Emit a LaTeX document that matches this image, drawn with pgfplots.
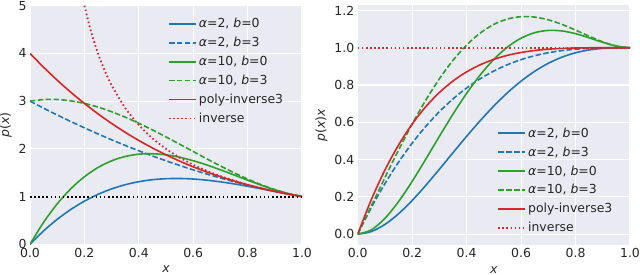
\documentclass[border=0pt]{standalone}
\usepackage{pgfplots}
\pgfplotsset{compat=1.18}
\usepackage{fontspec}
\setmainfont{DejaVu Sans}
\definecolor{bgc}{HTML}{EAEAF2}
\definecolor{txt}{HTML}{262626}
\definecolor{cb}{HTML}{1F77B4}
\definecolor{cg}{HTML}{2CA02C}
\definecolor{cr}{HTML}{D62728}
\pgfplotsset{
 sb/.style={
  scale only axis, width=272bp, height=238.6bp, xmin=0, xmax=1,
  axis background/.style={fill=bgc},
  axis line style={draw=none},
  major tick length=0pt,
  grid=major, major grid style={white, line width=1.1bp},
  tick label style={font=\fontsize{12.5}{15}\selectfont, text=txt},
  label style={font=\fontsize{12.5}{15}\selectfont, text=txt},
  /pgf/number format/assume math mode=true,
  xtick={0,0.2,0.4,0.6,0.8,1},
  xticklabel style={/pgf/number format/.cd, fixed, fixed zerofill, precision=1},
  legend style={draw=none, fill=none, font=\fontsize{12.5}{15}\selectfont, text=txt, inner sep=0pt, row sep=4bp, anchor=north west, cells={anchor=west}},
  legend image code/.code={\draw[##1] (0bp,0bp) -- (27bp,0bp);},
  every axis plot/.append style={line width=1.6bp},
  xlabel={\textit{x}},
  xlabel style={yshift=-1.5bp},
 },
 dsh/.style={dash pattern=on 5.5bp off 2.4bp},
 dtt/.style={dash pattern=on 1.6bp off 2.5bp, line width=1.8bp},
}
\begin{document}
\begin{tikzpicture}
\useasboundingbox (0,0) rectangle (640bp,275bp);
% ---------------- left panel: p(x)
\begin{axis}[sb, at={(30bp,30.7bp)}, anchor=south west,
  ymin=0, ymax=5, ytick={0,1,2,3,4,5},
  ylabel={\textit{p}(\textit{x})},
  legend style={at={(0.507,0.956)}}]
\addplot[cb, smooth] coordinates {(0,0)(0.05,0.2804)(0.1,0.523)(0.15,0.7301)(0.2,0.904)(0.25,1.0469)(0.3,1.161)(0.35,1.2486)(0.4,1.312)(0.45,1.3534)(0.5,1.375)(0.55,1.3791)(0.6,1.368)(0.65,1.3439)(0.7,1.309)(0.75,1.2656)(0.8,1.216)(0.85,1.1624)(0.9,1.107)(0.95,1.0521)(1,1)};
\addlegendentry{\textit{α}=2, \textit{b}=0}
\addplot[cb, dsh, smooth] coordinates {(0,3)(0.05,2.8525)(0.1,2.71)(0.15,2.5725)(0.2,2.44)(0.25,2.3125)(0.3,2.19)(0.35,2.0725)(0.4,1.96)(0.45,1.8525)(0.5,1.75)(0.55,1.6525)(0.6,1.56)(0.65,1.4725)(0.7,1.39)(0.75,1.3125)(0.8,1.24)(0.85,1.1725)(0.9,1.11)(0.95,1.0525)(1,1)};
\addlegendentry{\textit{α}=2, \textit{b}=3}
\addplot[cg, smooth] coordinates {(0,0)(0.05,0.4609)(0.1,0.847)(0.15,1.1636)(0.2,1.416)(0.25,1.6094)(0.3,1.749)(0.35,1.8401)(0.4,1.888)(0.45,1.8979)(0.5,1.875)(0.55,1.8246)(0.6,1.752)(0.65,1.6624)(0.7,1.561)(0.75,1.4531)(0.8,1.344)(0.85,1.2389)(0.9,1.143)(0.95,1.0616)(1,1)};
\addlegendentry{\textit{α}=10, \textit{b}=0}
\addplot[cg, dsh, smooth] coordinates {(0,3)(0.05,3.033)(0.1,3.034)(0.15,3.006)(0.2,2.952)(0.25,2.875)(0.3,2.778)(0.35,2.664)(0.4,2.536)(0.45,2.397)(0.5,2.25)(0.55,2.098)(0.6,1.944)(0.65,1.791)(0.7,1.642)(0.75,1.5)(0.8,1.368)(0.85,1.249)(0.9,1.146)(0.95,1.062)(1,1)};
\addlegendentry{\textit{α}=10, \textit{b}=3}
\addplot[cr, smooth] coordinates {(0,4)(0.05,3.7099)(0.1,3.439)(0.15,3.1866)(0.2,2.952)(0.25,2.7344)(0.3,2.533)(0.35,2.3471)(0.4,2.176)(0.45,2.0189)(0.5,1.875)(0.55,1.7436)(0.6,1.624)(0.65,1.5154)(0.7,1.417)(0.75,1.3281)(0.8,1.248)(0.85,1.1759)(0.9,1.111)(0.95,1.0526)(1,1)};
\addlegendentry{poly-inverse3}
\addplot[cr, dtt, smooth] coordinates {(0.2,5)(0.225,4.4444)(0.25,4)(0.275,3.6364)(0.3,3.3333)(0.35,2.8571)(0.4,2.5)(0.45,2.2222)(0.5,2)(0.55,1.8182)(0.6,1.6667)(0.65,1.5385)(0.7,1.4286)(0.75,1.3333)(0.8,1.25)(0.85,1.1765)(0.9,1.1111)(0.95,1.0526)(1,1)};
\addlegendentry{inverse}
\addplot[black, dtt, line width=2bp, forget plot] coordinates {(0,1)(1,1)};
\end{axis}
% ---------------- right panel: p(x)x
\begin{axis}[sb, at={(357.7bp,30bp)}, anchor=south west, width=272.3bp, height=240bp,
  ymin=-0.058, ymax=1.229, ytick={0,0.2,0.4,0.6,0.8,1.0,1.2},
  yticklabel style={/pgf/number format/.cd, fixed, fixed zerofill, precision=1},
  ylabel={\textit{p}(\textit{x})\textit{x}},
  legend style={at={(0.512,0.498)}}]
\addplot[cb, smooth] coordinates {(0,0)(0.05,0.01402)(0.1,0.0523)(0.15,0.10952)(0.2,0.1808)(0.25,0.26172)(0.3,0.3483)(0.35,0.43701)(0.4,0.5248)(0.45,0.60903)(0.5,0.6875)(0.55,0.75851)(0.6,0.8208)(0.65,0.87354)(0.7,0.9163)(0.75,0.9492)(0.8,0.9728)(0.85,0.98804)(0.9,0.9963)(0.95,0.9995)(1,1)};
\addlegendentry{\textit{α}=2, \textit{b}=0}
\addplot[cb, dsh, smooth] coordinates {(0,0)(0.05,0.1426)(0.1,0.271)(0.15,0.3859)(0.2,0.488)(0.25,0.5781)(0.3,0.657)(0.35,0.7254)(0.4,0.784)(0.45,0.8336)(0.5,0.875)(0.55,0.9089)(0.6,0.936)(0.65,0.9571)(0.7,0.973)(0.75,0.9844)(0.8,0.992)(0.85,0.9966)(0.9,0.999)(0.95,0.99988)(1,1)};
\addlegendentry{\textit{α}=2, \textit{b}=3}
\addplot[cg, smooth] coordinates {(0,0)(0.05,0.02305)(0.1,0.0847)(0.15,0.17454)(0.2,0.2832)(0.25,0.40235)(0.3,0.5247)(0.35,0.64404)(0.4,0.7552)(0.45,0.85406)(0.5,0.9375)(0.55,1.00353)(0.6,1.0512)(0.65,1.08056)(0.7,1.0927)(0.75,1.08983)(0.8,1.0752)(0.85,1.05307)(0.9,1.0287)(0.95,1.00852)(1,1)};
\addlegendentry{\textit{α}=10, \textit{b}=0}
\addplot[cg, dsh, smooth] coordinates {(0,0)(0.05,0.15165)(0.1,0.3034)(0.15,0.4509)(0.2,0.5904)(0.25,0.71875)(0.3,0.8334)(0.35,0.9324)(0.4,1.0144)(0.45,1.07865)(0.5,1.125)(0.55,1.1539)(0.6,1.1664)(0.65,1.16415)(0.7,1.1494)(0.75,1.125)(0.8,1.0944)(0.85,1.06165)(0.9,1.0314)(0.95,1.0089)(1,1)};
\addlegendentry{\textit{α}=10, \textit{b}=3}
\addplot[cr, smooth] coordinates {(0,0)(0.05,0.18549)(0.1,0.3439)(0.15,0.47799)(0.2,0.5904)(0.25,0.68359)(0.3,0.7599)(0.35,0.82149)(0.4,0.8704)(0.45,0.90849)(0.5,0.9375)(0.55,0.95899)(0.6,0.9744)(0.65,0.98499)(0.7,0.9919)(0.75,0.99609)(0.8,0.9984)(0.85,0.99949)(0.9,0.9999)(0.95,0.99999)(1,1)};
\addlegendentry{poly-inverse3}
\addplot[cr, dtt] coordinates {(0,1)(1,1)};
\addlegendentry{inverse}
\end{axis}
\end{tikzpicture}
\end{document}
